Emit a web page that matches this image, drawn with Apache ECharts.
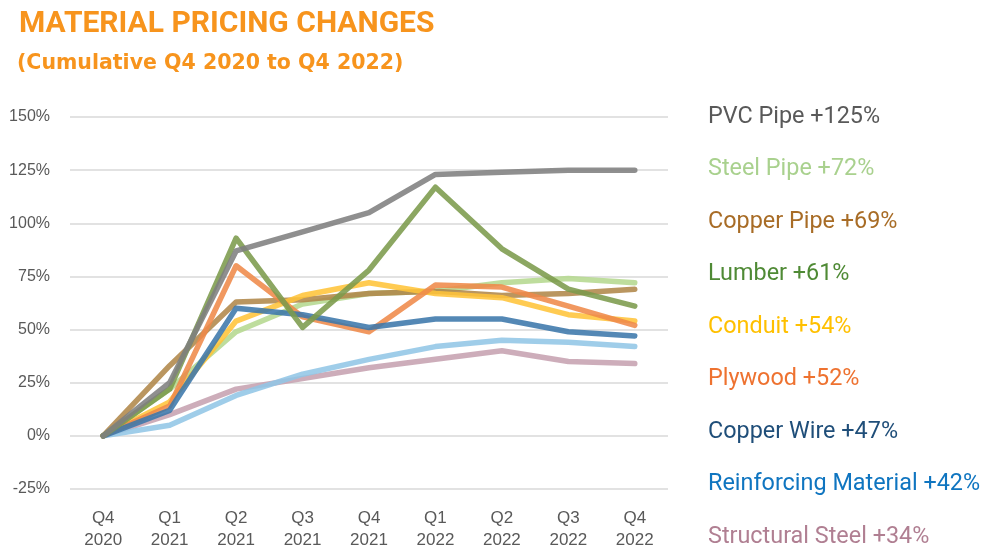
<!DOCTYPE html>
<html>
<head>
<meta charset="utf-8">
<script src="https://cdn.jsdelivr.net/npm/echarts@6/dist/echarts.min.js"></script>
<style>html,body{margin:0;padding:0;background:#fff;}#c{width:988px;height:551px;}</style>
</head>
<body>
<div id="c"></div>
<script>
const categories = ['Q4\n2020','Q1\n2021','Q2\n2021','Q3\n2021','Q4\n2021','Q1\n2022','Q2\n2022','Q3\n2022','Q4\n2022'];
const yTicks = [-25, 0, 25, 50, 75, 100, 125, 150];

const pvcPipe        = [0, 25, 87, 96, 105, 123, 124, 125, 125];
const steelPipe      = [0, 22, 49, 62, 67, 68, 72, 74, 72];
const copperPipe     = [0, 33, 63, 64, 67, 68, 66, 67, 69];
const lumber         = [0, 22, 93, 51, 78, 117, 88, 69, 61];
const conduit        = [0, 16, 54, 66, 72, 67, 65, 57, 54];
const plywood        = [0, 14, 80, 56, 49, 71, 70, 61, 52];
const copperWire     = [0, 12, 60, 57, 51, 55, 55, 49, 47];
const reinforcing    = [0, 5, 19, 29, 36, 42, 45, 44, 42];
const structural     = [0, 10, 22, 27, 32, 36, 40, 35, 34];

const seriesNames  = ['PVC Pipe','Steel Pipe','Copper Pipe','Lumber','Conduit','Plywood','Copper Wire','Reinforcing Material','Structural Steel'];
const seriesData   = [pvcPipe, steelPipe, copperPipe, lumber, conduit, plywood, copperWire, reinforcing, structural];
const changeLabels = ['+125%','+72%','+69%','+61%','+54%','+52%','+47%','+42%','+34%'];
const lineColors   = ['#7f7f7f','#b5d88f','#b0874a','#7c9b4c','#ffc43a','#ef8a4a','#3c78ab','#92c6e6','#c6a2b0'];
const textColors   = ['#595959','#a9d18e','#a86c26','#4f8a35','#ffc000','#ee7230','#1f4e79','#0f75c0','#b07f92'];
// drawing order (bottom to top)
const drawOrder = [8,7,1,2,4,5,6,3,0];

const chart = echarts.init(document.getElementById('c'));
const series = drawOrder.map(i => ({
  name: seriesNames[i],
  type: 'line',
  data: seriesData[i],
  symbol: 'none',
  smooth: false,
  lineStyle: {width: 5.5, color: lineColors[i], opacity: 0.88, cap: 'round', join: 'round'},
  itemStyle: {color: lineColors[i]},
  z: 2
}));

chart.setOption({
  animation: false,
  title: [
    {text: 'MATERIAL PRICING CHANGES', left: 14, top: 4,
     textStyle: {fontFamily: 'Roboto', fontWeight: 'bold', fontSize: 30, color: '#f7941d'}},
    {text: '(Cumulative Q4 2020 to Q4 2022)', left: 12, top: 48,
     textStyle: {fontFamily: 'DejaVu Sans', fontWeight: 'bold', fontSize: 20.5, color: '#f7941d'}}
  ],
  legend: {
    orient: 'vertical', left: 703, top: 98, height: 470,
    icon: 'none', itemWidth: 0, itemHeight: 10, itemGap: 24.5,
    selectedMode: false,
    data: seriesNames.map((n, i) => ({name: n, textStyle: {color: textColors[i]}})),
    formatter: name => name + ' ' + changeLabels[seriesNames.indexOf(name)],
    textStyle: {fontFamily: 'Roboto', fontSize: 23.4, lineHeight: 28, padding: [0,0,0,-5]}
  },
  grid: {left: 70, right: 320, top: 117, bottom: 62, containLabel: false},
  xAxis: {
    type: 'category', data: categories, boundaryGap: true,
    axisLine: {show: false}, axisTick: {show: false},
    axisLabel: {color: '#595959', fontFamily: 'Liberation Sans', fontSize: 17, lineHeight: 22, margin: 18}
  },
  yAxis: {
    type: 'value', min: -25, max: 150, interval: 25,
    axisLine: {show: false}, axisTick: {show: false},
    splitLine: {lineStyle: {color: '#d9d9d9', width: 1.5}},
    axisLabel: {color: '#595959', fontFamily: 'Liberation Sans', fontSize: 16, margin: 20,
      formatter: v => (yTicks.indexOf(v) >= 0 ? v + '%' : '')}
  },
  series: series
});
</script>
</body>
</html>
